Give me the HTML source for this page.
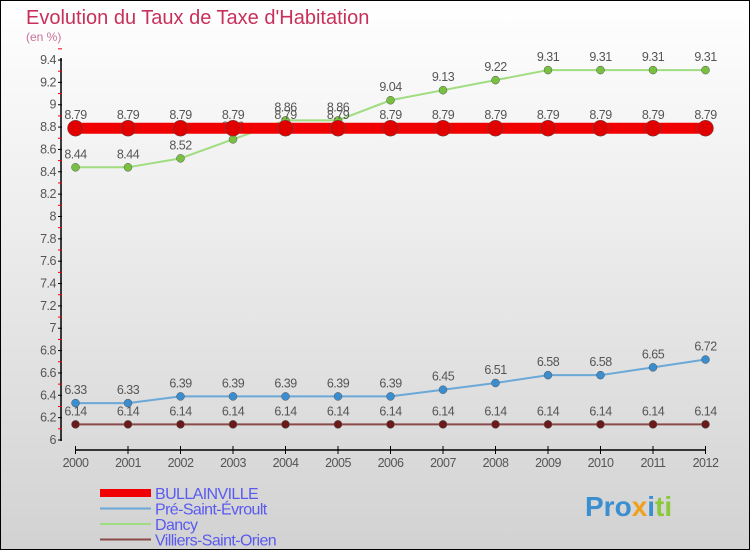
<!DOCTYPE html>
<html><head><meta charset="utf-8"><style>
body{margin:0}
#c{width:750px;height:550px;position:relative;overflow:hidden;font-family:"Liberation Sans",sans-serif}
</style></head><body>
<div id="c">
<svg id="s" width="750" height="550" xmlns="http://www.w3.org/2000/svg">
<defs><linearGradient id="bg" x1="0" y1="0" x2="0" y2="1"><stop offset="0" stop-color="#ffffff"/><stop offset="1" stop-color="#d2d2d2"/></linearGradient></defs>
<rect x="0.5" y="0.5" width="749" height="549" fill="url(#bg)" stroke="#000"/>
<text x="26" y="24" font-size="20" fill="#c8305c">Evolution du Taux de Taxe d'Habitation</text>
<text x="26" y="41" font-size="12" fill="#c8709a">(en %)</text>
<g id="axes"></g><g id="series"></g><g id="legend"></g>
<text x="585" y="516" font-size="28" font-weight="bold" fill="#3a8fd0">Pro<tspan fill="#f0a020">x</tspan><tspan fill="#3a8fd0">i</tspan><tspan fill="#8cc83c">ti</tspan></text>
</svg></div>
<script>
const years=[2000,2001,2002,2003,2004,2005,2006,2007,2008,2009,2010,2011,2012];
const bull=[8.79,8.79,8.79,8.79,8.79,8.79,8.79,8.79,8.79,8.79,8.79,8.79,8.79];
const pre=[6.33,6.33,6.39,6.39,6.39,6.39,6.39,6.45,6.51,6.58,6.58,6.65,6.72];
const dancy=[8.44,8.44,8.52,8.69,8.86,8.86,9.04,9.13,9.22,9.31,9.31,9.31,9.31];
const vill=[6.14,6.14,6.14,6.14,6.14,6.14,6.14,6.14,6.14,6.14,6.14,6.14,6.14];
const yTicks=[6,6.2,6.4,6.6,6.8,7,7.2,7.4,7.6,7.8,8,8.2,8.4,8.6,8.8,9,9.2,9.4];
const NS="http://www.w3.org/2000/svg";
const X=i=>75.5+i*52.5;
const Y=v=>440-(v-6)*111.76;
function mk(t,a,p){const e=document.createElementNS(NS,t);for(const k in a)e.setAttribute(k,a[k]);p.appendChild(e);return e;}
const ax=document.getElementById('axes');
let yl=mk('line',{x1:61,y1:58,x2:61,y2:441,stroke:'#000','stroke-width':1.5},ax);


yTicks.forEach(v=>{
 mk('line',{x1:58,y1:Y(v),x2:62,y2:Y(v),stroke:'#000'},ax);
 mk('line',{x1:58,y1:Y(v+0.1),x2:62,y2:Y(v+0.1),stroke:'#e00'},ax);
 const t=mk('text',{x:56,y:Y(v)+4,'text-anchor':'end','font-size':12.5,fill:'#555','letter-spacing':'-0.5'},ax);
 t.textContent=String(v);
 
 
});
let xl=mk('line',{x1:X(0),y1:450,x2:X(12),y2:450,stroke:'#000','stroke-width':1.5},ax);


years.forEach((y,i)=>{
 mk('line',{x1:X(i),y1:446,x2:X(i),y2:454,stroke:'#000'},ax);
 const t=mk('text',{x:X(i),y:467,'text-anchor':'middle','font-size':12.5,fill:'#555','letter-spacing':'-0.5'},ax);
 t.textContent=y;
 
 
});
const sg=document.getElementById('series');
function series(vals,color,lw,r,name,dot){
 const g=mk('g',{},sg);
 
 
 mk('polyline',{points:vals.map((v,i)=>X(i)+','+Y(v)).join(' '),fill:'none',stroke:color,'stroke-width':lw},g);
 vals.forEach((v,i)=>{
  const c=mk('circle',{cx:X(i),cy:Y(v),r:r,fill:dot,stroke:'#555','stroke-width':0.5},g);
  
  
  const t=mk('text',{x:X(i),y:Y(v)-9,'text-anchor':'middle','font-size':12.5,fill:'#555','letter-spacing':'-0.5'},g);
  t.textContent=String(v);
  
  
 });
}
series(vill,'#8b4a4a',2,4,'villiers','#6a1a1a');
series(pre,'#6aa8d8',2,4,'pre-saint-evroult','#3a8ed0');
series(dancy,'#a0dc80',2,4,'dancy','#78c040');
series(bull,'#f00000',11,8,'bullainville','#e00000');
const lg=document.getElementById('legend');
const L=[['BULLAINVILLE','#f00000',8],['Pré-Saint-Évroult','#6aa8d8',2],['Dancy','#a0dc80',2],['Villiers-Saint-Orien','#8b4a4a',2]];
L.forEach((l,i)=>{
 const y=493+i*15.5;
 const g=mk('g',{},lg);
 
 
 mk('line',{x1:100,y1:y,x2:151,y2:y,stroke:l[1],'stroke-width':l[2]},g);
 const t=mk('text',{x:155,y:y+6,'font-size':16,fill:'#5a5af0','letter-spacing':'-0.6'},g);
 t.textContent=l[0];
});
</script>
</body></html>
